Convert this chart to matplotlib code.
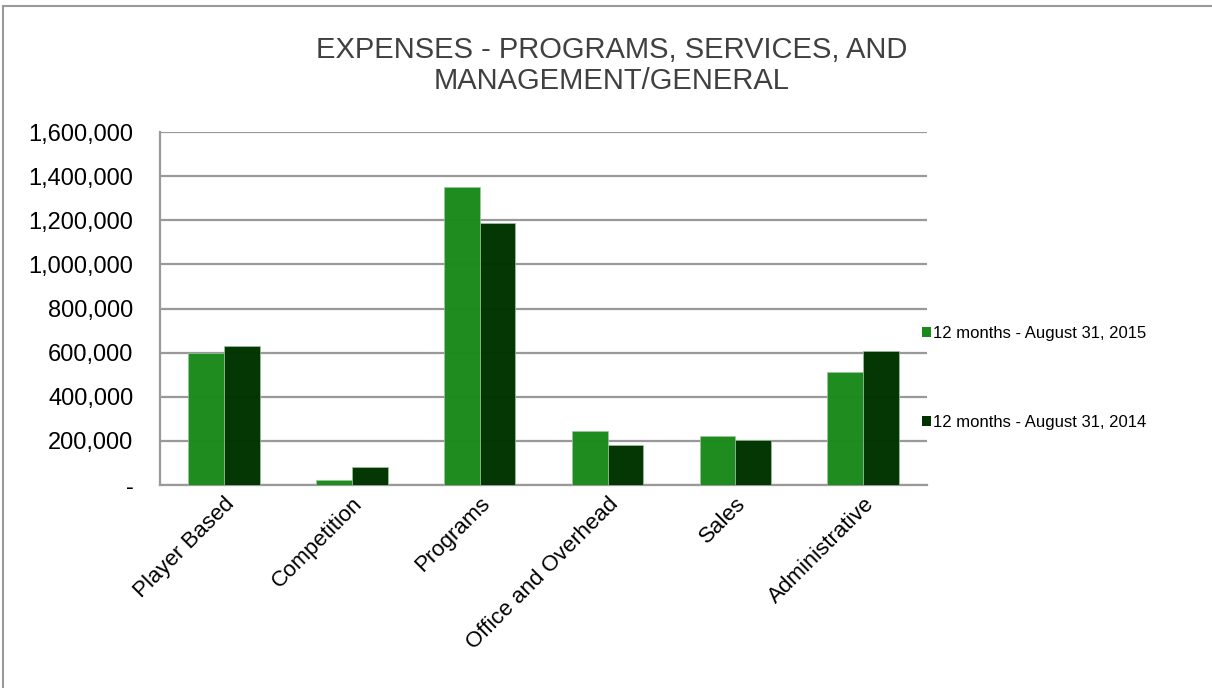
import matplotlib.pyplot as plt
import numpy as np
from matplotlib.patches import Patch, Rectangle
from matplotlib.ticker import FuncFormatter

plt.rcParams['font.family'] = ['Liberation Sans', 'DejaVu Sans']

# chart data
categories = ["Player Based", "Competition", "Programs",
              "Office and Overhead", "Sales", "Administrative"]
series_names = ["12 months - August 31, 2015", "12 months - August 31, 2014"]
fy2015 = [600000, 22000, 1350000, 246000, 223000, 512000]
fy2014 = [630000, 80000, 1190000, 181000, 204000, 607000]
colors = ["#1a8a1a", "#003300"]

fig = plt.figure(figsize=(12.12, 6.88), dpi=100)
ax = fig.add_axes([0.132, 0.295, 0.633, 0.513])

x = np.arange(len(categories))
w = 0.28
for vals, off, col in [(fy2015, -w / 2, colors[0]), (fy2014, w / 2, colors[1])]:
    ax.bar(x + off, vals, width=w, color=col, alpha=0.98,
           edgecolor="#9cc79c", linewidth=0.5, zorder=3)

ax.set_xlim(-0.5, len(categories) - 0.5)
ax.set_ylim(0, 1600000)
ax.set_yticks(np.arange(0, 1600001, 200000))
ax.yaxis.set_major_formatter(FuncFormatter(lambda v, p: "-" if v == 0 else f"{int(v):,}"))
ax.grid(axis="y", color="#999999", linewidth=1.6, zorder=1)
for s in ["top", "right"]:
    ax.spines[s].set_visible(False)
for s in ["left", "bottom"]:
    ax.spines[s].set_color("#999999")
    ax.spines[s].set_linewidth(1.6)
ax.tick_params(length=0, colors="#000000", pad=6)
ax.tick_params(axis="y", pad=19, labelsize=17)
ax.set_xticks(x)
ax.set_xticklabels(categories, rotation=45, ha="right", rotation_mode="anchor", fontsize=16)

fig.text(0.505, 0.948, "EXPENSES - PROGRAMS, SERVICES, AND\nMANAGEMENT/GENERAL",
         ha="center", va="top", fontsize=21, color="#404040", linespacing=1.15)

handles = [Patch(facecolor=c, edgecolor="none") for c in colors]
fig.legend(handles, series_names, loc="upper left", bbox_to_anchor=(0.748, 0.548),
           frameon=False, fontsize=12, handlelength=0.55, handleheight=0.55,
           handletextpad=0.15, labelspacing=4.45)

fig.patches.append(Rectangle((3 / 1212, -0.01), 1.2, 1 - 6 / 688 + 0.01, transform=fig.transFigure,
                             fill=False, edgecolor="#999999", linewidth=1.5))

fig.savefig("out.png", dpi=100)
